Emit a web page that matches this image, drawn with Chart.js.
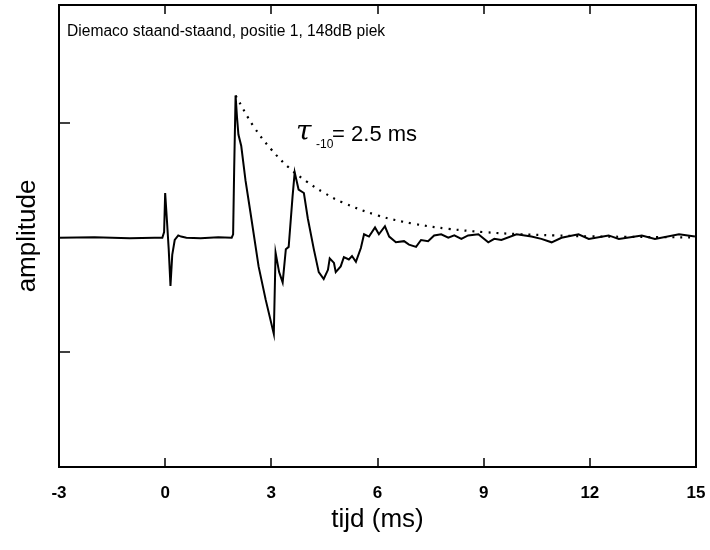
<!DOCTYPE html>
<html>
<head>
<meta charset="utf-8">
<script src="https://cdn.jsdelivr.net/npm/chart.js@4"></script>
<style>
  html, body { margin: 0; padding: 0; background: #fff; }
  #wrap { width: 710px; height: 550px; }
</style>
</head>
<body>
<div id="wrap"><canvas id="myChart" width="710" height="550"></canvas></div>
<script>
// gemeten signaal (tijd in ms, amplitude relatief)
let tijd = [-3.0, -2.0, -1.0, -0.3, -0.08, -0.03, 0.0, 0.05, 0.1, 0.15, 0.2, 0.27, 0.37, 0.45, 0.6, 1.0, 1.5, 1.88,
  1.92, 1.95, 1.99, 2.03, 2.07, 2.15, 2.27, 2.41, 2.64, 2.84, 3.07, 3.12, 3.22, 3.32, 3.41, 3.49, 3.6, 3.66,
  3.77, 3.92, 4.03, 4.2, 4.34, 4.48, 4.6, 4.65, 4.77, 4.82, 4.96, 5.05, 5.19, 5.28, 5.39, 5.53, 5.62, 5.76,
  5.93, 6.04, 6.21, 6.33, 6.52, 6.75, 6.89, 7.09, 7.23, 7.43, 7.6, 7.8, 8.0, 8.17, 8.37, 8.56, 8.85, 9.13,
  9.3, 9.5, 9.93, 10.35, 10.63, 10.92, 11.2, 11.68, 11.97, 12.53, 12.82, 13.47, 13.84, 14.52, 14.97];
let amplitude = [0, 0.005, -0.005, 0, 0, 0.05, 0.39, 0.15, -0.1, -0.42, -0.15, -0.02, 0.02, 0.01, 0, -0.005, 0.005, 0,
  0.03, 0.6, 1.24, 1.05, 0.9, 0.8, 0.5, 0.22, -0.25, -0.54, -0.84, -0.13, -0.3, -0.39, -0.1, -0.08, 0.36, 0.57,
  0.42, 0.39, 0.17, -0.1, -0.3, -0.36, -0.28, -0.18, -0.22, -0.3, -0.25, -0.17, -0.19, -0.16, -0.21, -0.09, 0.03, 0.01,
  0.09, 0.03, 0.1, 0.01, -0.04, -0.03, -0.06, -0.08, -0.02, -0.03, 0.02, 0.03, 0, 0.02, -0.01, 0.02, 0.03, -0.04,
  -0.01, -0.02, 0.03, 0.01, -0.01, -0.04, 0, 0.03, -0.01, 0.02, -0.01, 0.02, -0.01, 0.03, 0.01];

let tijdOmhullende = [1.99, 2.5, 3.0, 3.5, 4.0, 4.5, 5.0, 6.0, 7.0, 8.0, 9.0, 10.0, 11.0, 12.0, 13.0, 14.0, 15.0];
let omhullende = [1.24, 0.97, 0.77, 0.61, 0.49, 0.39, 0.31, 0.195, 0.123, 0.078, 0.049, 0.031, 0.02, 0.012, 0.008, 0.005, 0.003];

let xTicks = [-3, 0, 3, 6, 9, 12, 15];
let yTicks = [-1, 1];

let titel = "Diemaco staand-staand, positie 1, 148dB piek";

function punten(xs, ys) {
  return xs.map(function (x, i) { return { x: x, y: ys[i] }; });
}

// kader en naar binnen gerichte streepjes
const kader = {
  id: "kader",
  afterDraw: function (chart) {
    const c = chart.ctx;
    const a = chart.chartArea;
    const sx = chart.scales.x;
    const sy = chart.scales.y;
    c.save();
    c.strokeStyle = "#000";
    c.lineWidth = 2;
    c.strokeRect(a.left, a.top, a.right - a.left, a.bottom - a.top);
    c.lineWidth = 1.5;
    xTicks.forEach(function (t) {
      if (t === xTicks[0] || t === xTicks[xTicks.length - 1]) return;
      const px = Math.round(sx.getPixelForValue(t));
      c.beginPath();
      c.moveTo(px, a.bottom);
      c.lineTo(px, a.bottom - 9);
      c.moveTo(px, a.top);
      c.lineTo(px, a.top + 9);
      c.stroke();
    });
    yTicks.forEach(function (t) {
      const py = Math.round(sy.getPixelForValue(t));
      c.beginPath();
      c.moveTo(a.left, py);
      c.lineTo(a.left + 11, py);
      c.stroke();
    });
    // titel in de grafiek
    c.fillStyle = "#000";
    c.font = "15.6px 'Liberation Sans', Arial, sans-serif";
    c.textBaseline = "middle";
    c.textAlign = "left";
    c.fillText(titel, a.left + 8, 32);
    // tau annotatie
    const tx = sx.getPixelForValue(3.7);
    const ty = sy.getPixelForValue(0.9);
    c.font = "italic 28px 'DejaVu Serif', serif";
    c.fillText("\u03C4", tx, ty - 2);
    c.font = "12px 'Liberation Sans', Arial, sans-serif";
    c.fillText("-10", tx + 20, ty + 10);
    c.font = "22px 'Liberation Sans', Arial, sans-serif";
    c.fillText("= 2.5 ms", tx + 36, ty);
    c.restore();
  },
};

const ctx = document.getElementById("myChart");
const myChart = new Chart(ctx, {
  type: "line",
  data: {
    datasets: [
      {
        data: punten(tijdOmhullende, omhullende),
        borderColor: "#000",
        borderWidth: 2.2,
        borderDash: [2, 6],
        pointRadius: 0,
        tension: 0.4,
        fill: false,
      },
      {
        data: punten(tijd, amplitude),
        borderColor: "#000",
        borderWidth: 2,
        pointRadius: 0,
        tension: 0,
        fill: false,
      },
    ],
  },
  options: {
    responsive: false,
    animation: false,
    layout: { padding: { top: 5, right: 0, left: 0, bottom: 0 } },
    plugins: {
      legend: { display: false },
      tooltip: { enabled: false },
    },
    scales: {
      x: {
        type: "linear",
        min: -3,
        max: 15,
        afterBuildTicks: function (scale) {
          scale.ticks = xTicks.map(function (v) { return { value: v }; });
        },
        afterFit: function (scale) {
          scale.height = 83;
          scale.paddingRight = 14;
        },
        grid: { display: false, drawTicks: false },
        border: { display: false },
        ticks: {
          color: "#000",
          padding: 16,
          maxRotation: 0,
          font: { family: "'Liberation Sans', Arial, sans-serif", size: 17, weight: "bold" },
        },
        title: {
          display: true,
          text: "tijd (ms)",
          color: "#000",
          padding: { top: 0, bottom: 15 },
          font: { family: "'Liberation Sans', Arial, sans-serif", size: 26 },
        },
      },
      y: {
        min: -2,
        max: 2.03,
        afterFit: function (scale) { scale.width = 59; },
        grid: { display: false, drawTicks: false },
        border: { display: false },
        ticks: { display: false },
        title: {
          display: true,
          text: "amplitude",
          color: "#000",
          padding: { top: 12, bottom: 0 },
          font: { family: "'Liberation Sans', Arial, sans-serif", size: 26 },
        },
      },
    },
  },
  plugins: [kader],
});
</script>
</body>
</html>
